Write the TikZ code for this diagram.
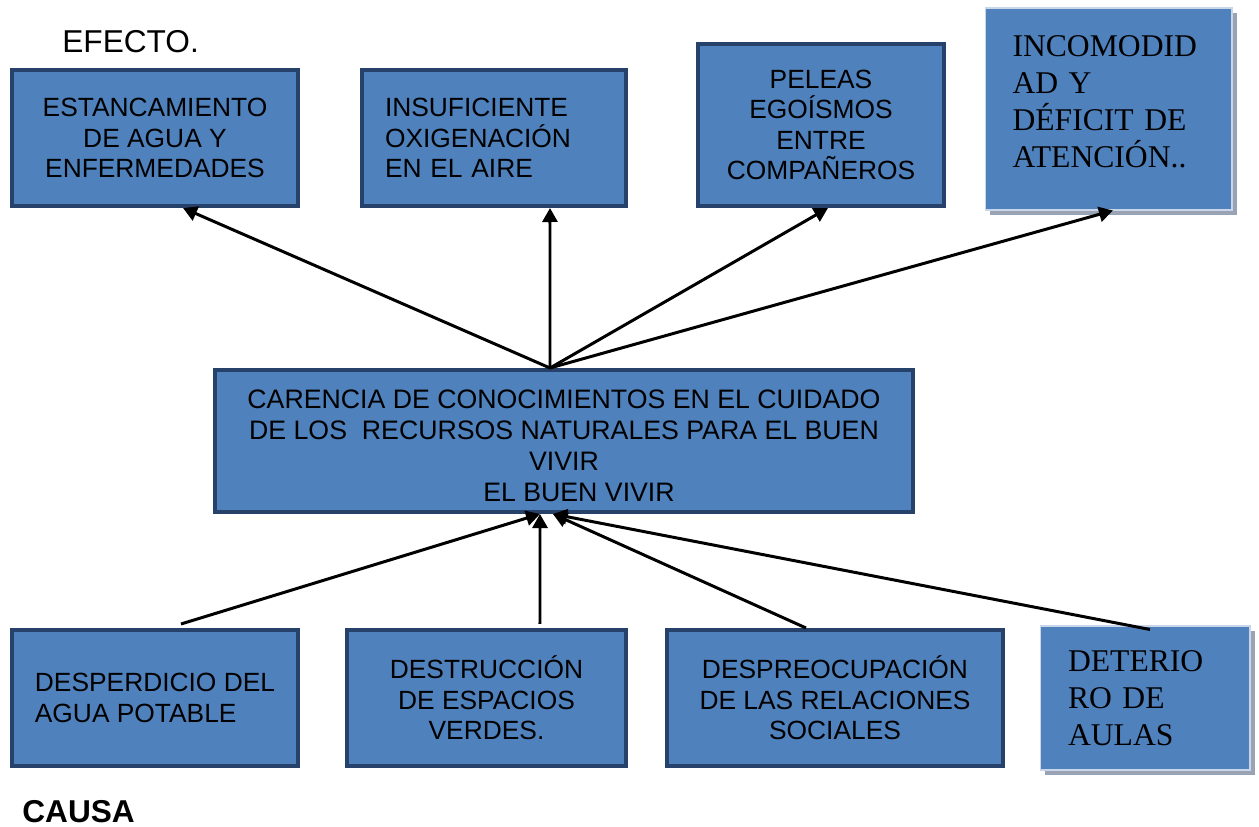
\documentclass[tikz,border=0pt]{standalone}
\usepackage{fontspec}
\setmainfont{Liberation Sans}
\newfontfamily\serifbox{Liberation Serif}
\usetikzlibrary{arrows.meta,shadows}
\definecolor{boxfill}{HTML}{4F81BD}
\definecolor{boxline}{HTML}{27426A}
\definecolor{boxedge}{HTML}{C9D5E9}
\definecolor{shadowgray}{HTML}{9AA3B3}
\tikzset{
  effbox/.style={draw=boxline, line width=2.3pt, fill=boxfill, align=center,
    font=\fontsize{15}{17.3}\selectfont},
  softbox/.style={draw=boxedge, line width=0.6pt, fill=boxfill, align=left,
    font=\serifbox\fontsize{18}{21.2}\selectfont,
    drop shadow={shadow xshift=0.1cm, shadow yshift=-0.1cm, fill=shadowgray, opacity=1}},
  link/.style={line width=1.7pt, -{Triangle[length=0.28cm,width=0.3cm]}}
}
\begin{document}
\begin{tikzpicture}[x=0.02cm,y=-0.02cm]
      \useasboundingbox (0,0) rectangle (1259,827);
      % titles
      \node[anchor=west, inner sep=0, font=\fontsize{18}{20}\selectfont] (efecto) at (62,42) {EFECTO.};
      \node[anchor=base west, inner sep=0, font=\bfseries\fontsize{18}{20}\selectfont] (causa) at (22,823) {CAUSA};
      % effects
      \node[effbox, minimum width=5.72cm, minimum height=2.72cm] (e1) at (155,138)
        {ESTANCAMIENTO\\DE AGUA Y\\ENFERMEDADES};
      \node[effbox, align=left, text width=4.36cm, inner xsep=0.46cm, minimum height=2.72cm] (e2) at (494,138)
        {INSUFICIENTE\\OXIGENACIÓN\\EN EL AIRE};
      \node[effbox, minimum width=4.92cm, minimum height=3.24cm] (e3) at (821,125)
        {PELEAS\\EGOÍSMOS\\ENTRE\\COMPAÑEROS};
      \node[softbox, text width=3.84cm, inner xsep=0.55cm, minimum height=4.04cm] (e4) at (1108.5,109)
        {INCOMODID\\AD Y\\DÉFICIT DE\\ATENCIÓN..\\[-0.45cm]\mbox{}};
      % central problem
      \node[effbox, minimum width=13.96cm, minimum height=2.84cm, font=\fontsize{15.2}{17.6}\selectfont] (prob) at (564,441)
        {CARENCIA DE CONOCIMIENTOS EN EL CUIDADO\\DE LOS\ \ RECURSOS NATURALES PARA EL BUEN\\VIVIR\\\hspace*{0.6cm}EL BUEN VIVIR\\[-0.81cm]\mbox{}};
      % causes
      \node[effbox, align=left, minimum width=5.72cm, minimum height=2.72cm] (c1) at (155,698)
        {DESPERDICIO DEL\\AGUA POTABLE};
      \node[effbox, minimum width=5.58cm, minimum height=2.72cm] (c2) at (486.5,698)
        {DESTRUCCIÓN\\DE ESPACIOS\\VERDES.};
      \node[effbox, minimum width=6.72cm, minimum height=2.72cm] (c3) at (835,698)
        {DESPREOCUPACIÓN\\DE LAS RELACIONES\\SOCIALES};
      \node[softbox, text width=3.08cm, inner xsep=0.56cm, minimum height=2.88cm] (c4) at (1145,698)
        {DETERIO\\RO DE\\AULAS};
      % effect arrows
      \coordinate (top) at ([xshift=-0.28cm]prob.north);
      \draw[link] (top) -- ([xshift=0.56cm]e1.south);
      \draw[link] (top) -- ([xshift=1.12cm]e2.south);
      \draw[link] (top) -- ([xshift=0.14cm]e3.south);
      \draw[link] (top) -- ([xshift=0.09cm]e4.south);
      % cause arrows
      \draw[link] ([xshift=0.52cm,yshift=0.08cm]c1.north) -- ([xshift=-0.48cm]prob.south);
      \draw[link] ([xshift=1.07cm,yshift=0.08cm]c2.north) -- ([xshift=-0.48cm]prob.south);
      \draw[link] ([xshift=-0.58cm]c3.north) -- ([xshift=-0.22cm]prob.south);
      \draw[link] ([xshift=0.1cm,yshift=-0.08cm]c4.north) -- ([xshift=-0.22cm]prob.south);
    \end{tikzpicture}
\end{document}
